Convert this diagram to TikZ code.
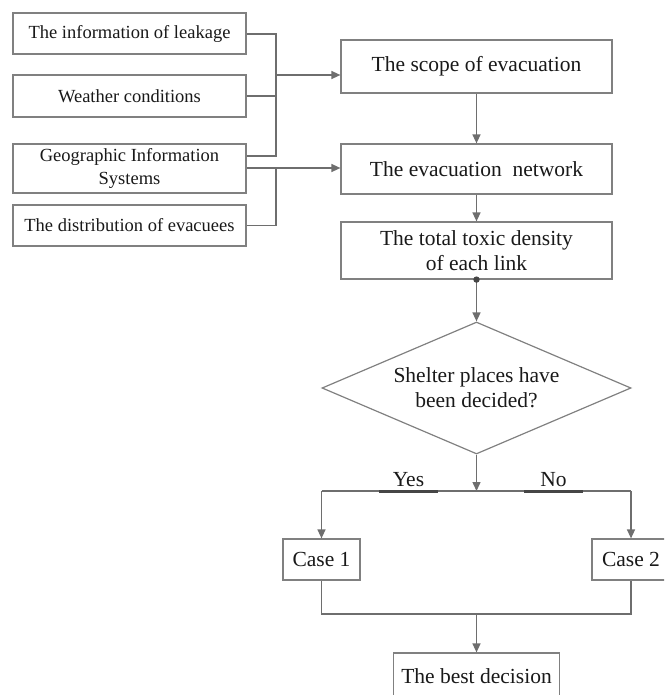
\documentclass[tikz,border=0pt]{standalone}
\usepackage{fontspec}
\setmainfont{Liberation Serif}
\usetikzlibrary{shapes.geometric,arrows.meta}
\definecolor{linegray}{RGB}{110,110,110}
\definecolor{boxgray}{RGB}{128,128,128}
\definecolor{darkgray2}{RGB}{70,70,70}
\definecolor{txt}{RGB}{25,25,25}
\begin{document}
\begin{tikzpicture}[x=1pt,y=-1pt,
  box/.style={draw=boxgray,line width=1.2pt,fill=white,inner sep=0pt,text=txt,align=center},
  lbox/.style={box,minimum width=233pt,font=\fontsize{18.5}{23}\selectfont},
  rbox/.style={box,font=\fontsize{21.5}{25}\selectfont},
  conn/.style={draw=linegray,line width=1.4pt},
  arr/.style={conn,-{Triangle[length=9pt,width=8pt]}},
  thickmark/.style={draw=darkgray2,line width=3pt},
  lbl/.style={text=txt,font=\fontsize{21.5}{25}\selectfont,inner sep=0pt}]
\useasboundingbox (0,0) rectangle (664,695);
\clip (0,0) rectangle (664,695);
% left inputs
\node[lbox,minimum height=41pt] (info) at (129.5,33.5) {The information of leakage};
\node[lbox,minimum height=42pt] (weather) at (129.5,96) {Weather conditions};
\node[lbox,minimum height=49pt] (gis) at (129.5,168.5) {Geographic Information\\Systems};
\node[lbox,minimum height=41pt] (dist) at (129.5,225.5) {The distribution of evacuees};
% right chain
\node[rbox,minimum width=271pt,minimum height=53pt] (scope) at (476.5,66.5) {The scope of evacuation};
\node[rbox,minimum width=271pt,minimum height=50pt] (net) at (476.5,169) {The evacuation\ \ network};
\node[rbox,minimum width=271pt,minimum height=57pt] (tox) at (476.5,250.5) {The total toxic density\\ of each link};
\node[diamond,draw=boxgray,line width=1.2pt,inner sep=0pt,shape aspect=2.34,minimum width=309pt,minimum height=132pt,
  text=txt,align=center,font=\fontsize{21.5}{25}\selectfont] (dec) at (476.5,388) {Shelter places have\\been decided?};
\node[rbox,minimum width=77pt,minimum height=41pt] (c1) at (321.5,559.5) {Case 1};
\node[rbox,minimum width=78pt,minimum height=41pt] (c2) at (631,559.5) {Case 2};
\node[rbox,minimum width=166pt,minimum height=46pt] (best) at (476.5,676) {The best decision};
% junction coordinates
\coordinate (j1) at (276,75);
\coordinate (j2) at (276,168);
\coordinate (split) at (476.5,491);
\coordinate (merge) at (476.5,614);
% connectors: inputs to scope
\draw[conn] (info.east |- 0,34) -- (276,34) -- (276,156) -- (gis.east |- 0,156);
\draw[conn] (weather.east) -- (276,96);
\draw[arr] (j1) -- (scope.west |- j1);
% inputs to network
\draw[conn] (dist.east) -- (276,225.5) -- (j2);
\draw[arr] (gis.east |- j2) -- (net.west |- j2);
% chain
\draw[arr] (scope.south) -- (net.north);
\draw[arr] (net.south) -- (tox.north);
\draw[arr] (tox.south) -- (dec.north);
\fill[darkgray2] (tox.south) circle (3.2pt);
\draw[arr] (dec.south) -- (split);
\draw[conn] (c1.north |- split) -- (c2.north |- split);
\draw[arr] (c1.north |- split) -- (c1.north);
\draw[arr] (c2.north |- split) -- (c2.north);
\draw[thickmark] (379,491) -- (438,491);
\draw[thickmark] (524,491) -- (583,491);
\node[lbl,anchor=base] (yes) at (408.5,486) {Yes};
\node[lbl,anchor=base] (no) at (553.5,486) {No};
\draw[conn] (c1.south) -- (c1.south |- merge) -- (c2.south |- merge) -- (c2.south);
\draw[arr] (merge) -- (best.north);
\end{tikzpicture}
\end{document}
